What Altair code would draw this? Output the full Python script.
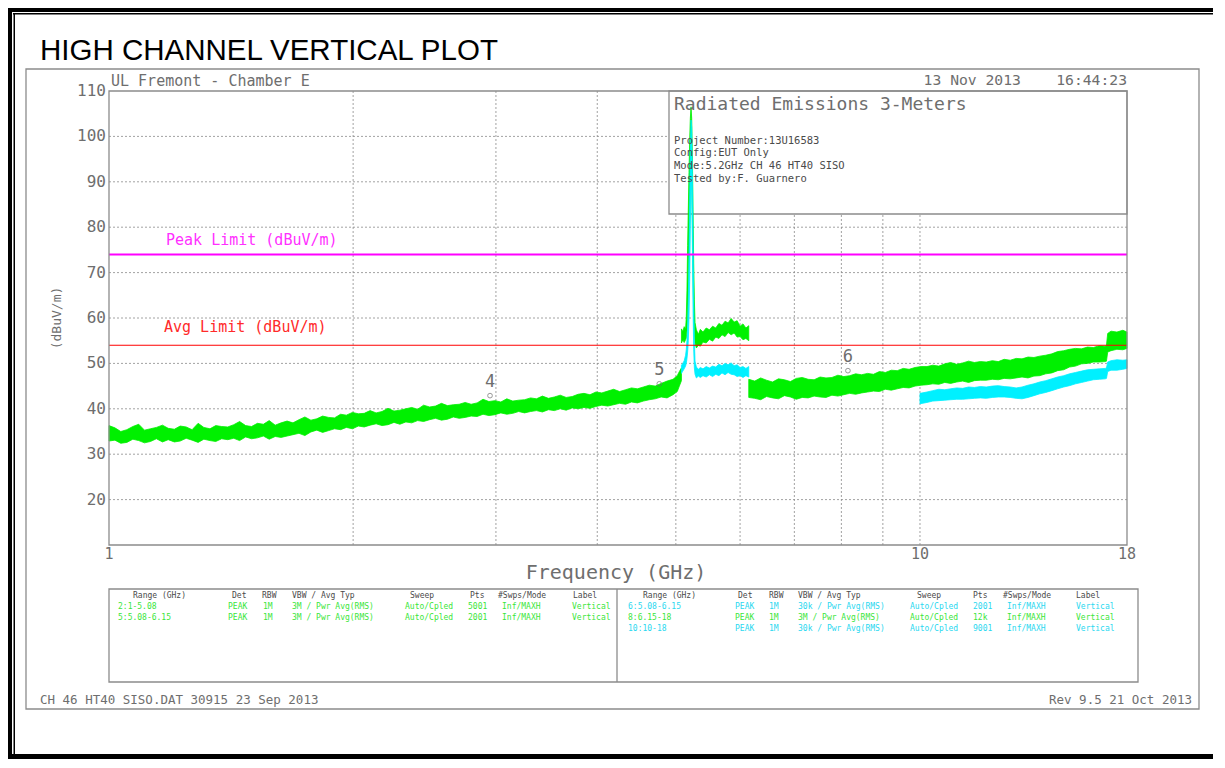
import altair as alt
import pandas as pd

MONO = "DejaVu Sans Mono"
GREY = "#6e6e6e"
DARK = "#4a4a4a"
GREEN = "#00f000"
CYAN = "#00f0ff"
TGREEN = "#3ae63a"
TCYAN = "#2ad8f0"

# ---------------- trace data (GHz, dBuV/m): lower / upper edge of each noisy sweep ----------------
# range 2 : 1 - 5.08 GHz, peak detector (green)
g2_f = [1.000, 1.017, 1.034, 1.052, 1.070, 1.088, 1.106, 1.125, 1.144, 1.164,
        1.183, 1.204, 1.224, 1.245, 1.266, 1.288, 1.309, 1.332, 1.354, 1.377,
        1.401, 1.425, 1.449, 1.474, 1.499, 1.524, 1.550, 1.576, 1.603, 1.630,
        1.658, 1.686, 1.715, 1.744, 1.774, 1.804, 1.834, 1.866, 1.897, 1.930,
        1.962, 1.996, 2.030, 2.064, 2.099, 2.135, 2.171, 2.208, 2.246, 2.284,
        2.323, 2.362, 2.402, 2.443, 2.485, 2.527, 2.570, 2.614, 2.658, 2.703,
        2.749, 2.796, 2.844, 2.892, 2.941, 2.991, 3.042, 3.094, 3.147, 3.200,
        3.254, 3.310, 3.366, 3.423, 3.482, 3.541, 3.601, 3.662, 3.725, 3.788,
        3.852, 3.918, 3.985, 4.052, 4.121, 4.191, 4.262, 4.335, 4.408, 4.483,
        4.559, 4.637, 4.716, 4.796, 4.877, 4.960, 5.020, 5.050, 5.080]
g2_lo = [32.9, 33.1, 32.4, 32.6, 33.3, 33.0, 32.5, 32.8, 33.4, 32.7,
         33.2, 32.7, 32.9, 33.5, 33.1, 32.6, 33.3, 33.0, 32.8, 33.4,
         33.2, 33.5, 33.0, 33.8, 33.4, 33.6, 34.0, 33.3, 33.9, 33.7,
         34.0, 34.3, 34.6, 34.1, 34.9, 35.3, 34.8, 35.2, 35.6, 35.4,
         35.9, 35.6, 36.2, 36.0, 36.4, 36.7, 36.3, 36.5, 37.0, 36.6,
         37.1, 36.9, 37.4, 37.2, 37.6, 37.9, 37.5, 37.7, 38.2, 37.9,
         38.1, 38.4, 38.3, 38.8, 38.5, 38.7, 39.1, 38.8, 39.0, 39.4,
         39.1, 39.4, 39.6, 39.3, 39.8, 39.6, 40.0, 39.7, 40.2, 40.0,
         40.3, 40.1, 40.5, 40.8, 40.6, 40.9, 41.2, 41.0, 41.5, 41.3,
         41.7, 42.0, 42.2, 42.6, 42.4, 43.1, 43.8, 45.0, 46.2]
g2_hi = [36.3, 35.8, 35.0, 35.4, 36.1, 36.6, 35.3, 35.6, 35.9, 36.4,
         35.7, 35.5, 36.2, 36.0, 35.4, 36.8, 35.9, 35.6, 36.3, 36.1,
         36.0, 36.5, 37.2, 36.3, 36.1, 36.8, 36.6, 37.4, 36.4, 36.9,
         37.3, 36.9, 37.6, 38.2, 37.5, 37.8, 38.4, 38.1, 38.0, 38.8,
         38.6, 39.2, 38.9, 39.0, 39.6, 39.1, 39.4, 40.1, 39.5, 39.7,
         40.0, 40.3, 39.9, 40.8, 40.4, 40.6, 41.2, 40.7, 40.9, 41.0,
         41.4, 41.0, 41.3, 42.1, 41.6, 41.8, 41.5, 42.2, 41.7, 41.9,
         42.0, 42.4, 42.2, 42.8, 42.3, 42.6, 43.0, 42.5, 42.7, 43.2,
         43.4, 43.1, 43.7, 43.5, 43.9, 44.3, 43.8, 44.2, 44.6, 44.4,
         44.8, 45.2, 45.0, 45.6, 46.1, 46.5, 47.3, 48.2, 49.0]

# range 5 : 5.08 - 6.15 GHz, peak detector (green)
g5_f = [5.08, 5.10, 5.12, 5.14, 5.15, 5.16, 5.17, 5.18, 5.19, 5.20, 5.21, 5.22, 5.23, 5.24, 5.25, 5.26,
        5.27, 5.28, 5.30, 5.33, 5.36, 5.40, 5.45, 5.50, 5.55, 5.60, 5.65, 5.70, 5.75, 5.80, 5.85, 5.90,
        5.95, 6.00, 6.05, 6.10, 6.15]
g5_lo = [54.5, 55.2, 54.6, 55.2, 55.6, 57.0, 60.0, 66.0, 74.0, 82.0, 90.0, 95.0, 92.0, 82.0, 70.0, 61.0,
         56.5, 54.5, 53.4, 54.0, 53.8, 54.7, 54.5, 55.3, 54.9, 55.8, 55.5, 56.3, 55.9, 56.8, 56.3, 56.7,
         55.8, 55.9, 55.2, 55.5, 55.0]
g5_hi = [57.6, 57.0, 58.1, 57.6, 60.0, 66.0, 76.0, 84.0, 92.0, 99.0, 104.0, 106.5, 104.0, 96.0, 84.0, 72.0,
         64.0, 59.0, 57.4, 56.4, 57.5, 56.9, 57.8, 57.4, 58.2, 57.8, 58.8, 58.4, 59.3, 58.9, 59.9, 59.1,
         59.4, 58.2, 58.7, 57.8, 58.3]

# range 6 : 5.08 - 6.15 GHz, average (cyan)
c6_f = [5.08, 5.10, 5.12, 5.14, 5.15, 5.16, 5.17, 5.18, 5.19, 5.20, 5.21, 5.22, 5.23, 5.24, 5.25, 5.26,
        5.27, 5.28, 5.30, 5.33, 5.36, 5.40, 5.45, 5.50, 5.55, 5.60, 5.65, 5.70, 5.75, 5.80, 5.85, 5.90,
        5.95, 6.00, 6.05, 6.10, 6.15]
c6_lo = [47.8, 48.3, 48.8, 49.4, 50.0, 51.0, 52.5, 55.0, 60.0, 68.0, 80.0, 90.0, 88.0, 76.0, 62.0, 53.0,
         49.0, 47.6, 46.8, 47.2, 46.9, 47.3, 47.0, 47.5, 47.1, 47.6, 47.3, 47.9, 47.5, 48.0, 47.6, 47.5,
         47.1, 47.3, 46.9, 47.3, 47.0]
c6_hi = [49.6, 50.0, 50.6, 51.8, 53.0, 55.0, 58.0, 64.0, 74.0, 86.0, 97.0, 103.6, 102.0, 92.0, 78.0, 64.0,
         55.0, 50.5, 49.2, 48.7, 49.1, 48.8, 49.3, 49.0, 49.4, 49.2, 49.8, 49.5, 50.0, 49.7, 50.1, 49.5,
         49.7, 49.1, 49.3, 48.9, 49.3]

# range 8 : 6.15 - 18 GHz, peak detector (green)
g8_f = [6.150, 6.255, 6.361, 6.469, 6.579, 6.691, 6.805, 6.921, 7.039, 7.158,
        7.280, 7.404, 7.530, 7.658, 7.788, 7.920, 8.055, 8.192, 8.331, 8.473,
        8.617, 8.763, 8.912, 9.064, 9.218, 9.375, 9.534, 9.696, 9.861, 10.03,
        10.20, 10.37, 10.55, 10.73, 10.91, 11.10, 11.29, 11.48, 11.67, 11.87,
        12.07, 12.28, 12.49, 12.70, 12.92, 13.14, 13.36, 13.59, 13.82, 14.05,
        14.29, 14.54, 14.78, 15.04, 15.29, 15.55, 15.82, 16.09, 16.36, 16.64,
        16.92, 16.98, 17.04, 17.20, 17.49, 17.79, 18.00]
g8_lo = [42.5, 42.3, 42.0, 42.7, 42.4, 42.2, 42.9, 42.6, 42.1, 42.5,
         42.4, 42.8, 42.6, 42.5, 43.0, 42.8, 43.1, 43.4, 43.2, 43.5,
         43.7, 43.9, 43.8, 44.3, 44.1, 44.4, 44.7, 44.6, 45.0, 45.2,
         45.3, 45.5, 45.4, 45.8, 45.6, 45.9, 46.1, 45.8, 46.2, 46.3,
         46.3, 46.5, 46.4, 46.7, 46.6, 46.8, 47.0, 46.8, 47.2, 47.3,
         47.7, 47.9, 48.4, 48.6, 49.2, 49.4, 49.9, 50.0, 50.3, 50.3,
         50.4, 50.5, 52.5, 52.8, 53.1, 53.0, 53.3]
g8_hi = [46.5, 46.1, 46.8, 46.3, 45.9, 46.6, 46.4, 46.0, 46.7, 46.9,
         46.5, 46.4, 47.0, 46.8, 46.9, 47.4, 47.1, 47.3, 47.7, 47.5,
         47.8, 47.6, 48.2, 48.0, 48.5, 48.4, 48.9, 48.7, 49.1, 49.3,
         49.3, 49.6, 49.4, 49.9, 50.2, 49.8, 50.1, 50.5, 50.2, 50.4,
         50.3, 50.6, 50.4, 50.9, 50.7, 51.1, 51.0, 51.4, 51.3, 51.6,
         51.8, 52.1, 52.6, 52.8, 53.1, 53.3, 53.2, 53.6, 53.5, 53.9,
         53.8, 54.0, 56.6, 57.1, 56.9, 57.3, 56.9]

# range 10 : 10 - 18 GHz, average (cyan)
c10_f = [10.00, 10.20, 10.37, 10.55, 10.73, 10.91, 11.10, 11.29, 11.48, 11.67,
         11.87, 12.07, 12.28, 12.49, 12.70, 12.92, 13.14, 13.36, 13.59, 13.82,
         14.05, 14.29, 14.54, 14.78, 15.04, 15.29, 15.55, 15.82, 16.09, 16.36,
         16.64, 16.92, 16.98, 17.04, 17.20, 17.49, 17.79, 18.00]
c10_lo = [41.1, 41.4, 41.7, 41.8, 41.9, 42.0, 42.1, 42.1, 42.2, 42.3,
          42.4, 42.3, 42.5, 42.6, 42.6, 42.5, 42.3, 42.2, 42.5, 42.9,
          43.3, 43.6, 44.0, 44.4, 44.8, 45.1, 45.5, 45.8, 46.1, 46.4,
          46.5, 46.6, 46.7, 48.2, 48.5, 48.5, 48.7, 48.9]
c10_hi = [43.4, 43.7, 44.0, 44.3, 44.2, 44.4, 44.6, 44.5, 44.8, 44.7,
          44.9, 44.8, 45.0, 45.1, 44.9, 44.8, 44.6, 44.8, 45.2, 45.5,
          45.9, 46.2, 46.6, 47.0, 47.3, 47.7, 48.0, 48.3, 48.6, 48.7,
          48.8, 48.9, 49.0, 50.3, 50.6, 50.8, 50.7, 50.8]

limit_names = ["Peak Limit (dBuV/m)", "Avg Limit (dBuV/m)"]
limit_values = [74, 54]

marker_labels = ["4", "5", "6"]
marker_freq = [2.95, 4.77, 8.15]
marker_level = [42.9, 45.5, 48.4]

x_grid_values = [2, 3, 4, 5, 6, 7, 8, 9, 10]
x_label_values = [1, 10, 18]
y_grid_values = [20, 30, 40, 50, 60, 70, 80, 90, 100]
y_label_values = [20, 30, 40, 50, 60, 70, 80, 90, 100, 110]
X_MIN, X_MAX, Y_MIN, Y_MAX = 1, 18, 10, 110

NB = "\u00a0"
title_text = "HIGH CHANNEL VERTICAL PLOT"
site_text = "UL Fremont - Chamber E"
stamp_text = "13 Nov 2013" + NB * 4 + "16:44:23"
box_title = "Radiated Emissions 3-Meters"
box_lines = ["Project Number:13U16583", "Config:EUT Only", "Mode:5.2GHz CH 46 HT40 SISO",
             "Tested by:F. Guarnero"]
x_title = "Frequency (GHz)"
y_title = "(dBuV/m)"
footer_left = "CH 46 HT40 SISO.DAT 30915 23 Sep 2013"
footer_right = "Rev 9.5 21 Oct 2013"

table_header = ["Range (GHz)", "Det", "RBW", "VBW / Avg Typ", "Sweep", "Pts", "#Swps/Mode", "Label"]
table_left_rows = [
    ["2:1-5.08", "PEAK", "1M", "3M / Pwr Avg(RMS)", "Auto/Cpled", "5001", "Inf/MAXH", "Vertical"],
    ["5:5.08-6.15", "PEAK", "1M", "3M / Pwr Avg(RMS)", "Auto/Cpled", "2001", "Inf/MAXH", "Vertical"],
]
table_left_kind = ["g", "g"]
table_right_rows = [
    ["6:5.08-6.15", "PEAK", "1M", "30k / Pwr Avg(RMS)", "Auto/Cpled", "2001", "Inf/MAXH", "Vertical"],
    ["8:6.15-18", "PEAK", "1M", "3M / Pwr Avg(RMS)", "Auto/Cpled", "12k", "Inf/MAXH", "Vertical"],
    ["10:10-18", "PEAK", "1M", "30k / Pwr Avg(RMS)", "Auto/Cpled", "9001", "Inf/MAXH", "Vertical"],
]
table_right_kind = ["c", "g", "c"]

# ---------------- layout (pixels inside the plot area) ----------------
W, H = 1018, 454
PAD_L, PAD_T = 101, 83
TOTAL_W, TOTAL_H = 1205, 751

L_HEAD_X = [24, 123, 153, 183, 301, 361, 389, 464]
L_ROW_X = [9, 119, 154, 183, 296, 359, 393, 463]
R_HEAD_X = [534, 629, 660, 689, 808, 864, 894, 967]
R_ROW_X = [519, 626, 660, 689, 801, 864, 898, 967]
HEAD_Y = 505
ROW_Y = [516, 527, 538]

# ---------------- build tables ----------------
def band(f, lo, hi, seg):
    assert len(f) == len(lo) == len(hi), seg
    return pd.DataFrame({"f": f, "lo": lo, "hi": hi, "seg": seg})

green = pd.concat([band(g2_f, g2_lo, g2_hi, "2"), band(g5_f, g5_lo, g5_hi, "5"),
                   band(g8_f, g8_lo, g8_hi, "8")], ignore_index=True)
cyan = pd.concat([band(c6_f, c6_lo, c6_hi, "6"), band(c10_f, c10_lo, c10_hi, "10")],
                 ignore_index=True)

x_scale = alt.Scale(type="log", domain=[X_MIN, X_MAX], nice=False)
y_scale = alt.Scale(domain=[Y_MIN, Y_MAX], nice=False, zero=False)

def fx(name):
    return alt.X(f"{name}:Q", scale=x_scale, axis=None)

def fy(name):
    return alt.Y(f"{name}:Q", scale=y_scale, axis=None)

def px(name):
    return alt.X(f"{name}:Q", scale=None, axis=None)

def py(name):
    return alt.Y(f"{name}:Q", scale=None, axis=None)

# grid and tick labels drawn from the data scales
vgrid = pd.DataFrame({"f": x_grid_values, "a": Y_MIN, "b": Y_MAX})
hgrid = pd.DataFrame({"v": y_grid_values, "a": X_MIN, "b": X_MAX})
vgrid_layer = alt.Chart(vgrid).mark_rule(color="#8a8a8a", strokeWidth=0.8, strokeDash=[2, 2]).encode(
    x=fx("f"), y=fy("a"), y2="b:Q")
hgrid_layer = alt.Chart(hgrid).mark_rule(color="#8a8a8a", strokeWidth=0.8, strokeDash=[2, 2]).encode(
    y=fy("v"), x=fx("a"), x2="b:Q")
xlab = pd.DataFrame({"f": x_label_values, "v": Y_MIN, "t": [str(v) for v in x_label_values]})
ylab = pd.DataFrame({"v": y_label_values, "f": X_MIN, "t": [str(v) for v in y_label_values]})
xlab_layer = alt.Chart(xlab).mark_text(font=MONO, fontSize=15, color=GREY, baseline="top", dy=2).encode(
    x=fx("f"), y=fy("v"), text="t:N")
ylab_layer = alt.Chart(ylab).mark_text(font=MONO, fontSize=16, color=GREY, align="right",
                                       baseline="middle", dx=-3).encode(
    x=fx("f"), y=fy("v"), text="t:N")

def trace_layer(df, color):
    return alt.Chart(df).mark_area(interpolate="linear", color=color, stroke=color,
                                   strokeWidth=0.8, opacity=1).encode(
        x=fx("f"), y=fy("lo"), y2="hi:Q", detail="seg:N")

# decorative frame pieces
black_bars = pd.DataFrame({
    "x": [-101, -96, -101, -95.5, -101],
    "x2": [1120, 1120, -97, -94, 1120],
    "y": [-83, -78, -83, -78, 663],
    "y2": [-79, -76.5, 668, 668, 668],
})
outlines = pd.DataFrame({"x": [-83, 0, 0], "x2": [1090, 1029, W], "y": [-22, 498, 0], "y2": [618, 591, H]})
info_box = pd.DataFrame({"x": [560], "x2": [1018], "y": [0], "y2": [123]})
divider = pd.DataFrame({"x": [508], "y": [498], "y2": [591]})

bars_layer = alt.Chart(black_bars).mark_rect(color="black").encode(
    x=px("x"), x2="x2:Q", y=py("y"), y2="y2:Q")
outline_layer = alt.Chart(outlines).mark_rect(filled=False, stroke="#8c8c8c", strokeWidth=1.3).encode(
    x=px("x"), x2="x2:Q", y=py("y"), y2="y2:Q")
box_layer = alt.Chart(info_box).mark_rect(fill="white", stroke="#8c8c8c", strokeWidth=1.3).encode(
    x=px("x"), x2="x2:Q", y=py("y"), y2="y2:Q")
divider_layer = alt.Chart(divider).mark_rule(stroke="#8c8c8c", strokeWidth=1.3).encode(
    x=px("x"), y=py("y"), y2="y2:Q")

# limits
limits = pd.DataFrame({"name": limit_names, "v": limit_values})
peak_rule = alt.Chart(limits.iloc[[0]]).mark_rule(color="#ff00ff", strokeWidth=2).encode(y=fy("v"))
avg_rule = alt.Chart(limits.iloc[[1]]).mark_rule(color="#ff0000", strokeWidth=1.2).encode(y=fy("v"))

# markers
markers = pd.DataFrame({"f": marker_freq, "v": marker_level, "t": marker_labels})
marker_pts = alt.Chart(markers).mark_point(shape="circle", size=22, filled=False, color=GREY,
                                           strokeWidth=1).encode(x=fx("f"), y=fy("v"))
marker_txt = alt.Chart(markers).mark_text(font=MONO, fontSize=17, color=GREY, dy=-14,
                                          baseline="middle").encode(x=fx("f"), y=fy("v"), text="t:N")

# text helpers
def text_layer(rows, size, align="left", font=MONO, angle=0):
    df = pd.DataFrame(rows, columns=["x", "y", "t", "c"])
    kw = dict(align=align, baseline="middle", font=font, fontSize=size)
    if angle:
        kw["angle"] = angle
    return alt.Chart(df).mark_text(**kw).encode(
        x=px("x"), y=py("y"), text="t:N", color=alt.Color("c:N", scale=None))

title_layer = text_layer([(-69, -40, title_text, "#000000")], 29.5, font="Liberation Sans")
head_layer = text_layer([(2, -10, site_text, GREY)], 15)
stamp_layer = text_layer([(1018, -10, stamp_text, GREY)], 14.7, align="right")
ytitle_layer = text_layer([(-52, 227, y_title, GREY)], 13, align="center", angle=270)
xtitle_layer = text_layer([(507, 482, x_title, GREY)], 20, align="center")
limit_text_layer = text_layer([(57, 149, limit_names[0], "#ff30ff"),
                               (55, 236, limit_names[1], "#ff2a2a")], 15)
box_title_layer = text_layer([(565, 14, box_title, GREY)], 18)
box_lines_layer = text_layer([(565, y, t, DARK) for y, t in zip([50, 62, 75, 88], box_lines)], 10.5)
footer_l_layer = text_layer([(-69, 609, footer_left, GREY)], 12.5)
footer_r_layer = text_layer([(1083, 609, footer_right, GREY)], 12.5, align="right")

tbl = []
for hx, t in zip(L_HEAD_X, table_header):
    tbl.append((hx, HEAD_Y, t, DARK))
for hx, t in zip(R_HEAD_X, table_header):
    tbl.append((hx, HEAD_Y, t, DARK))
for ry, row, k in zip(ROW_Y, table_left_rows, table_left_kind):
    for cx, t in zip(L_ROW_X, row):
        tbl.append((cx, ry, t, TGREEN if k == "g" else TCYAN))
for ry, row, k in zip(ROW_Y, table_right_rows, table_right_kind):
    for cx, t in zip(R_ROW_X, row):
        tbl.append((cx, ry, t, TGREEN if k == "g" else TCYAN))
table_layer = text_layer(tbl, 8)

chart = alt.layer(
    vgrid_layer, hgrid_layer,
    box_layer,
    trace_layer(green, GREEN),
    trace_layer(cyan, CYAN),
    peak_rule, avg_rule,
    marker_pts, marker_txt,
    xlab_layer, ylab_layer,
    bars_layer, outline_layer, divider_layer,
    title_layer, head_layer, stamp_layer, ytitle_layer, xtitle_layer, limit_text_layer,
    box_title_layer, box_lines_layer, footer_l_layer, footer_r_layer, table_layer,
).properties(
    width=W, height=H,
    autosize=alt.AutoSizeParams(type="none"),
    padding={"left": PAD_L, "top": PAD_T, "right": TOTAL_W - PAD_L - W, "bottom": TOTAL_H - PAD_T - H},
    background="white",
).configure_view(stroke=None)

chart.save("out.html", embed_options={"renderer": "svg", "actions": False})
